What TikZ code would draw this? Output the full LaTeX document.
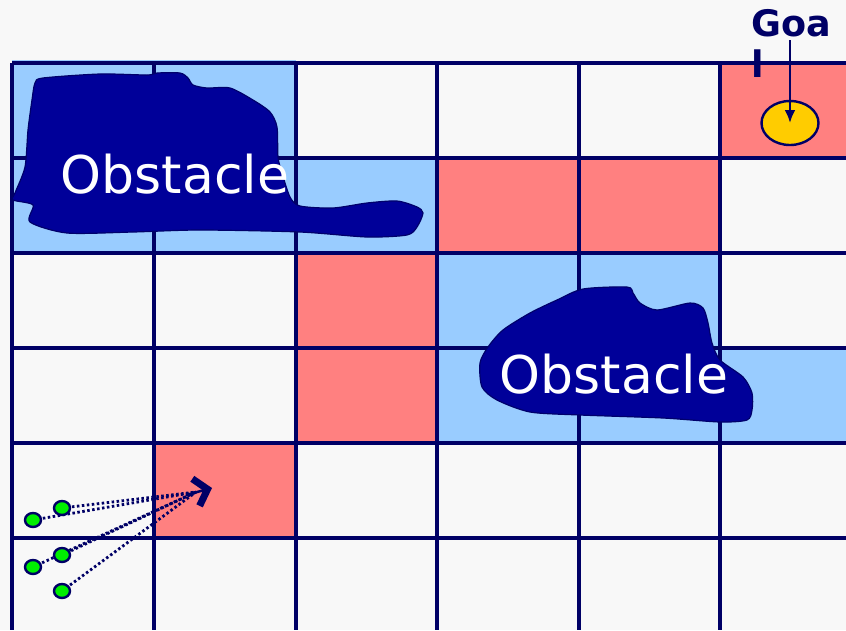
\documentclass[tikz,border=0pt]{standalone}
\usepackage{fontspec}
\setmainfont{DejaVu Sans}
\usetikzlibrary{arrows.meta,shapes.geometric}
\pgfdeclarelayer{front}
\pgfsetlayers{main,front}
\definecolor{bgc}{HTML}{F8F8F8}
\definecolor{lblue}{HTML}{99CCFF}
\definecolor{lred}{HTML}{FF8080}
\definecolor{navy}{HTML}{000066}
\definecolor{obst}{HTML}{000099}
\definecolor{goalc}{HTML}{FFCC00}
\definecolor{dotg}{HTML}{00EE00}
\tikzset{
  gridline/.style={draw=navy, line width=3.4pt},
  bluecell/.style={fill=lblue},
  redcell/.style={fill=lred},
  obstacle/.style={fill=obst, draw=obst!70!black, line width=1.2pt},
  obstlabel/.style={text=white, inner sep=0pt, font=\fontsize{52}{60}\selectfont},
  greendot/.style={ellipse, fill=dotg, draw=navy, line width=2.4pt, minimum width=16pt, minimum height=14pt, inner sep=0pt},
  dotline/.style={draw=navy, line width=2.8pt, dash pattern=on 2.5pt off 2.5pt},
}
\begin{document}
\begin{tikzpicture}[x=1pt,y=-1pt]
\useasboundingbox (0,0) rectangle (846,630);
\fill[bgc] (0,0) rectangle (846,630);
% coloured cells
\fill[bluecell] (12,60) rectangle (296,158);
\fill[bluecell] (12,158) rectangle (437,253);
\fill[bluecell] (437,253) rectangle (720,348);
\fill[bluecell] (437,346) rectangle (846,443);
\fill[redcell] (720,63) rectangle (846,158);
\fill[redcell] (437,158) rectangle (720,253);
\fill[redcell] (296,253) rectangle (437,443);
\fill[redcell] (154,443) rectangle (296,538);
% grid
\foreach \x in {12,154,296,437,579,720} \draw[gridline] (\x,63) -- (\x,630);
\foreach \y in {63,158,253,348,443,538} \draw[gridline] (12,\y) -- (846,\y);
% obstacles
\path[obstacle] plot[smooth cycle, tension=0.45] coordinates {
 (43,78) (100,74) (147,75) (157,73) (180,73) (188,78) (193,85) (207,88) (230,88)
 (253,100) (270,112) (277,127) (278,157) (282,173) (290,197) (300,206) (333,208)
 (367,203) (397,201) (417,207) (423,213) (417,227) (407,235) (367,237) (300,232)
 (200,230) (133,232) (67,233) (30,222) (33,205) (13,200) (15,193) (25,167)
 (28,130) (32,100) (35,83)};
\path[obstacle] plot[smooth cycle, tension=0.45] coordinates {
 (480,363) (488,347) (503,330) (530,313) (557,300) (583,289) (627,287) (633,293)
 (640,303) (657,310) (690,303) (703,308) (708,323) (712,343) (720,360) (743,377)
 (752,393) (752,410) (747,420) (720,422) (663,418) (580,415) (530,412) (497,400)
 (482,387)};
\node[obstlabel, anchor=base] (obsA) at (175,193) {Obstacle};
\node[obstlabel, anchor=base] (obsB) at (614,393) {Obstacle};
% goal
\node[ellipse, fill=goalc, draw=navy, line width=2.4pt, minimum width=57pt, minimum height=44pt, inner sep=0pt] (goal) at (790,123) {};
\node[align=left, anchor=north west, inner sep=0pt, text=navy,
      font=\fontsize{36.5}{41}\selectfont\bfseries] (goaltext) at (751,9) {Goa\\l};
\coordinate (goalarrow) at (790,40);
\draw[navy, line width=2.6pt, -{Latex[length=13pt,width=11pt]}] (goalarrow) -- (goal.center);
% robot particles
\begin{pgfonlayer}{front}
\node[greendot] (p1) at (33,520) {};
\node[greendot] (p2) at (62,508) {};
\node[greendot] (p3) at (33,567) {};
\node[greendot] (p4) at (62,555) {};
\node[greendot] (p5) at (62,591) {};
\end{pgfonlayer}
\coordinate (tip) at (196,492);
\foreach \p in {p1,p2,p3,p4,p5} \draw[dotline] (\p.center) -- (tip);
\coordinate (tipbase) at (186,495);
\coordinate (tipend) at (212,488);
\draw[navy, line width=2.5pt, -{Straight Barb[length=12pt,width=28pt,line width=7pt]}] (tipbase) -- (tipend);
\end{tikzpicture}
\end{document}
